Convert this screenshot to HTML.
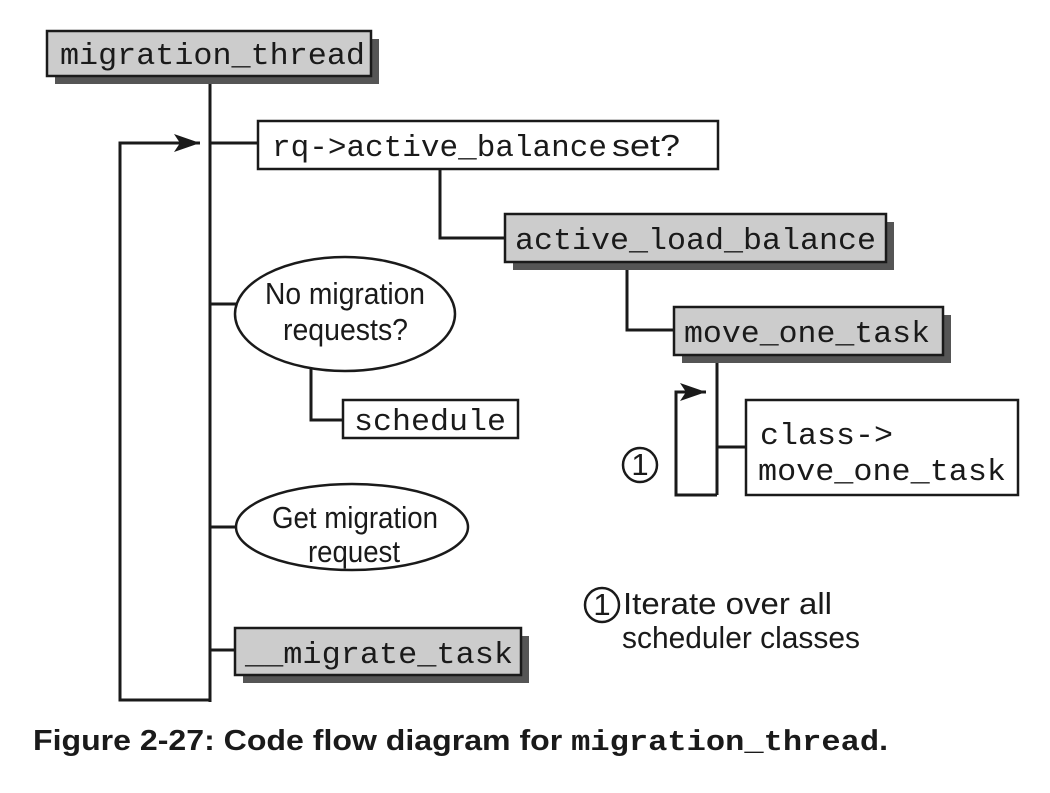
<!DOCTYPE html>
<html><head><style>
body{margin:0;background:#fff;}
svg text{fill:#1a1a1a}
.m{font-family:"Liberation Mono",monospace;font-size:31px}
.s{font-family:"Liberation Sans",sans-serif;font-size:31px}
</style></head><body>
<svg width="1050" height="788" viewBox="0 0 1050 788" xmlns="http://www.w3.org/2000/svg">
<defs>
<marker id="b" markerWidth="26" markerHeight="18" refX="26" refY="9" orient="auto" markerUnits="userSpaceOnUse"><path d="M0,0 L26,9 L0,18 L6,9 z" fill="#1a1a1a"/></marker></defs>
<g stroke="#1a1a1a" stroke-width="3" fill="none">
<line x1="210" y1="76" x2="210" y2="702"/>
<polyline points="210,700 120,700 120,143 200,143" marker-end="url(#b)"/>
<line x1="210" y1="143" x2="258" y2="143"/>
<polyline points="440,169 440,238 505,238"/>
<polyline points="627,262 627,330 674,330"/>
<line x1="210" y1="304" x2="236" y2="304"/>
<polyline points="311,366 311,420 343,420"/>
<line x1="210" y1="527" x2="235" y2="527"/>
<line x1="210" y1="650" x2="235" y2="650"/>
<line x1="717" y1="355" x2="717" y2="495"/>
<polyline points="717,495 676,495 676,392 706,392" marker-end="url(#b)"/>
<line x1="717" y1="447" x2="746" y2="447"/>
</g>
<g fill="#555">
<rect x="55" y="39" width="324" height="45"/>
<rect x="513" y="222" width="381" height="48"/>
<rect x="682" y="315" width="269" height="48"/>
<rect x="243" y="636" width="286" height="47"/>
</g>
<g stroke="#1a1a1a" stroke-width="2.5">
<rect x="47" y="31" width="324" height="45" fill="#ccc"/>
<rect x="258" y="121" width="460" height="48" fill="#fff"/>
<rect x="505" y="214" width="381" height="48" fill="#ccc"/>
<rect x="674" y="307" width="269" height="48" fill="#ccc"/>
<rect x="343" y="400" width="175" height="38" fill="#fff"/>
<rect x="746" y="400" width="272" height="95" fill="#fff"/>
<rect x="235" y="628" width="286" height="47" fill="#ccc"/>
<ellipse cx="345" cy="314" rx="110" ry="57" fill="#fff"/>
<ellipse cx="352" cy="527" rx="116" ry="43" fill="#fff"/>
<circle cx="640" cy="465" r="17" fill="none"/>
<circle cx="602" cy="605" r="17" fill="none"/>
</g>
<text class="m" x="60" y="64" textLength="305" lengthAdjust="spacingAndGlyphs">migration_thread</text>
<text class="m" x="272" y="156" textLength="335" lengthAdjust="spacingAndGlyphs">rq-&gt;active_balance</text>
<text class="s" x="612" y="156" textLength="68" lengthAdjust="spacingAndGlyphs">set?</text>
<text class="m" x="515" y="249" textLength="361" lengthAdjust="spacingAndGlyphs">active_load_balance</text>
<text class="m" x="684" y="342" textLength="246" lengthAdjust="spacingAndGlyphs">move_one_task</text>
<text class="m" x="354" y="430" textLength="152" lengthAdjust="spacingAndGlyphs">schedule</text>
<text class="m" x="760" y="444" textLength="133" lengthAdjust="spacingAndGlyphs">class-&gt;</text>
<text class="m" x="758" y="480" textLength="248" lengthAdjust="spacingAndGlyphs">move_one_task</text>
<text class="m" x="245" y="663" textLength="268" lengthAdjust="spacingAndGlyphs">__migrate_task</text>
<text class="s" x="265" y="304" textLength="160" lengthAdjust="spacingAndGlyphs">No migration</text>
<text class="s" x="283" y="340" textLength="125" lengthAdjust="spacingAndGlyphs">requests?</text>
<text class="s" x="272" y="528" textLength="166" lengthAdjust="spacingAndGlyphs">Get migration</text>
<text class="s" x="308" y="562" textLength="92" lengthAdjust="spacingAndGlyphs">request</text>
<text class="s" x="640" y="475" text-anchor="middle" font-size="26">1</text>
<text class="s" x="602" y="615" text-anchor="middle" font-size="26">1</text>
<text class="s" x="623" y="614" textLength="209" lengthAdjust="spacingAndGlyphs">Iterate over all</text>
<text class="s" x="622" y="648" textLength="238" lengthAdjust="spacingAndGlyphs">scheduler classes</text>
<text x="33" y="750" textLength="855" lengthAdjust="spacingAndGlyphs" style="font-family:'Liberation Sans',sans-serif;font-weight:bold;font-size:29px">Figure 2-27: Code flow diagram for <tspan style="font-family:'Liberation Mono',monospace;font-size:29px">migration_thread</tspan>.</text>
</svg>
</body></html>
